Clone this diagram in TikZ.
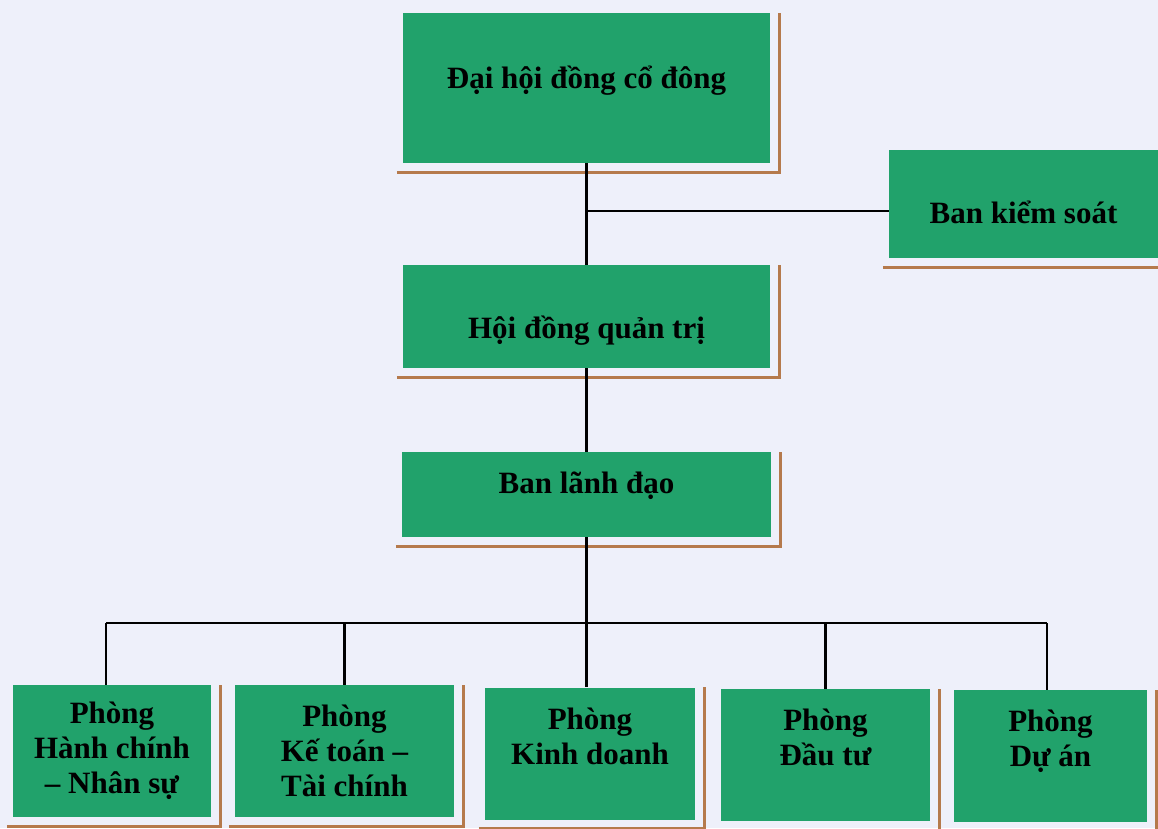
\documentclass[tikz,border=0pt]{standalone}
\usepackage{fontspec}
\setmainfont{Liberation Serif}
\definecolor{pageBg}{HTML}{EEF0FA}
\definecolor{boxFill}{HTML}{21A26B}
\definecolor{shdDraw}{HTML}{B57A4C}

\begin{document}
\begin{tikzpicture}[x=1pt,y=-1pt,
  bx/.style={rectangle,fill=boxFill,inner sep=0pt,align=center,
             font=\fontsize{31}{35}\selectfont\bfseries},
  topbx/.style={bx,minimum width=367pt},
  deptbx/.style={bx,minimum height=132pt},
  ln/.style={draw=black,line width=2.3pt},
  shd/.style={draw=shdDraw,line width=3pt},
]

% ---- page -------------------------------------------------------------
\fill[pageBg] (0,0) rectangle (1158,828);
\clip (0,0) rectangle (1158,828);

% ---- upper boxes ------------------------------------------------------
\node[topbx,minimum height=150pt,text height=10pt,text depth=10pt] (dhcd) at (586.5,88) {Đại hội đồng cổ đông};
\node[bx,minimum width=269pt,minimum height=108pt,text height=38pt,text depth=0pt] (bks) at (1023.5,204) {Ban kiểm soát};
\node[topbx,minimum height=103pt,text height=44pt,text depth=0pt] (hdqt) at (586.5,316.5) {Hội đồng quản trị};
\node[topbx,minimum width=369pt,minimum height=85pt,text height=10pt,text depth=12pt] (bld) at (586.5,494.5) {Ban lãnh đạo};

% ---- departments ------------------------------------------------------
\node[deptbx,minimum width=198pt] (phcns) at (112,751)   {Phòng\\Hành chính\\– Nhân sự};
\node[deptbx,minimum width=219pt] (pktc)  at (344.5,751) {Phòng\\Kế toán –\\Tài chính};
\node[deptbx,minimum width=210pt] (pkd)   at (590,753.5) {Phòng\\Kinh doanh\\\mbox{}};
\node[deptbx,minimum width=209pt] (pdt)   at (825.5,755) {Phòng\\Đầu tư\\\mbox{}};
\node[deptbx,minimum width=193pt] (pda)   at (1050.5,756) {Phòng\\Dự án\\\mbox{}};

% ---- brown shadow lines -----------------------------------------------
\foreach \n in {dhcd,bks,hdqt,bld,phcns,pktc,pkd,pdt,pda}
  \draw[shd] ([xshift=-6pt,yshift=-9pt]\n.south west)
          -- ([xshift=9pt,yshift=-9pt]\n.south east)
          -- ([xshift=9pt]\n.north east);

% ---- connectors -------------------------------------------------------
\coordinate (bksJ) at (586.5,211);
\coordinate (busL) at (106,623);
\coordinate (busR) at (1047,623);

\draw[ln] (dhcd) -- (hdqt);
\draw[ln] (bksJ) -- (bksJ -| bks.west);
\draw[ln] (hdqt) -- (bld);
\draw[ln] (bld.south) -- (bld.south |- pkd.north);
\draw[ln] (busL) -- (busR);
\draw[ln] (busL) -- (busL |- phcns.north);
\draw[ln] (busR) -- (busR |- pda.north);
\foreach \n in {pktc,pdt}
  \draw[ln] (\n.north |- busL) -- (\n.north);

\end{tikzpicture}
\end{document}
